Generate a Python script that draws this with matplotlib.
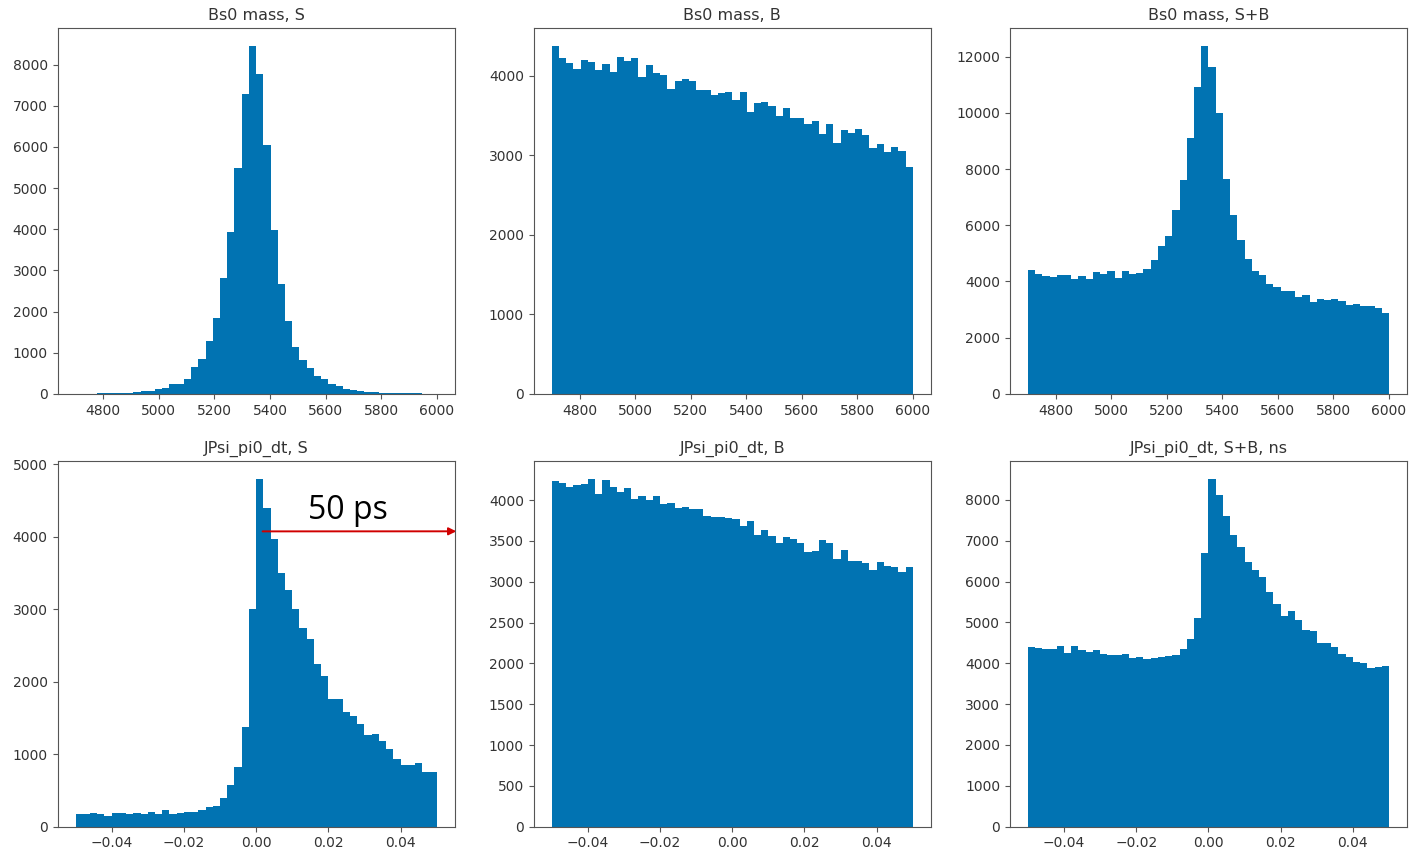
import numpy as np
import matplotlib
matplotlib.use('Agg')
import matplotlib.pyplot as plt
from matplotlib.ticker import MultipleLocator

# --- binning (50 bins each, as in the notebook) -----------------------------
n_bins = 50
mass_range = (4700, 6000)
dt_range = (-0.05, 0.05)

# --- counts -----------------------------------------------------------------
mass_s = [0, 0, 0, 20, 25, 25, 30, 30, 40, 60,
          80, 130, 140, 230, 240, 370, 660, 850, 1280, 1840,
          2820, 3930, 5500, 7290, 8460, 7780, 6050, 3990, 2660, 1770,
          1140, 820, 620, 430, 370, 230, 190, 130, 100, 70,
          50, 35, 30, 25, 25, 20, 20, 15, 0, 0]

mass_b = [4380, 4225, 4163, 4088, 4205, 4175, 4071, 4155, 4050, 4242,
          4184, 4221, 3983, 4142, 4038, 4008, 3837, 3933, 3967, 3933,
          3820, 3820, 3766, 3787, 3800, 3703, 3800, 3549, 3658, 3670,
          3628, 3495, 3600, 3466, 3466, 3399, 3432, 3265, 3399, 3161,
          3315, 3286, 3328, 3257, 3090, 3140, 3044, 3111, 3056, 2856]

mass_sb = [4426, 4249, 4189, 4142, 4225, 4225, 4095, 4178, 4095, 4320,
           4260, 4379, 4130, 4367, 4284, 4308, 4462, 4757, 5266, 5609,
           6556, 7598, 9112, 10935, 12390, 11621, 10000, 7657, 6379, 5467,
           4793, 4379, 4225, 3893, 3811, 3657, 3657, 3432, 3515, 3278,
           3373, 3337, 3361, 3302, 3160, 3183, 3124, 3124, 3041, 2888]

dt_s = [170, 170, 183, 170, 151, 183, 183, 170, 183, 170,
        206, 170, 229, 170, 193, 206, 206, 229, 266, 284,
        399, 573, 817, 1376, 3000, 4803, 4390, 3968, 3500, 3266,
        3000, 2743, 2583, 2248, 2078, 1766, 1766, 1583, 1523, 1413,
        1261, 1275, 1183, 1078, 927, 849, 849, 881, 748, 748]

dt_b = [4236, 4216, 4163, 4187, 4196, 4265, 4073, 4248, 4167, 4102,
        4147, 4012, 4053, 4000, 4049, 3951, 3971, 3902, 3918, 3894,
        3886, 3804, 3788, 3788, 3780, 3768, 3686, 3739, 3576, 3637,
        3564, 3475, 3552, 3523, 3475, 3360, 3381, 3511, 3470, 3279,
        3389, 3259, 3259, 3226, 3145, 3238, 3198, 3177, 3116, 3177]

dt_sb = [4400, 4376, 4336, 4352, 4432, 4256, 4432, 4320, 4272, 4320,
         4216, 4200, 4200, 4232, 4136, 4152, 4096, 4120, 4152, 4168,
         4200, 4360, 4592, 5100, 6700, 8520, 8120, 7600, 7140, 6850,
         6480, 6290, 6110, 5750, 5460, 5150, 5280, 5060, 4820, 4800,
         4500, 4490, 4400, 4220, 4160, 4030, 4010, 3880, 3900, 3940]

titles = ['Bs0 mass, S', 'Bs0 mass, B', 'Bs0 mass, S+B',
          'JPsi_pi0_dt, S', 'JPsi_pi0_dt, B', 'JPsi_pi0_dt, S+B, ns']

BAR_COLOR = '#0173B2'

plt.rcParams['font.family'] = ['DejaVu Sans']
plt.rcParams['axes.edgecolor'] = '#555555'
plt.rcParams['xtick.color'] = '#555555'
plt.rcParams['ytick.color'] = '#555555'
plt.rcParams['xtick.labelcolor'] = '#333333'
plt.rcParams['ytick.labelcolor'] = '#333333'

fig, axes = plt.subplots(2, 3, figsize=(14.1, 8.51), dpi=100)
fig.subplots_adjust(left=0.0408, right=0.9979, top=0.9667, bottom=0.0286,
                    wspace=0.199, hspace=0.184)

mass_edges = np.linspace(mass_range[0], mass_range[1], n_bins + 1)
dt_edges = np.linspace(dt_range[0], dt_range[1], n_bins + 1)

panels = [(mass_s, mass_edges), (mass_b, mass_edges), (mass_sb, mass_edges),
          (dt_s, dt_edges), (dt_b, dt_edges), (dt_sb, dt_edges)]
y_steps = [1000, 1000, 2000, 1000, 500, 1000]

for ax, (counts, edges), title, ystep in zip(axes.flat, panels, titles, y_steps):
    centers = 0.5 * (edges[:-1] + edges[1:])
    ax.hist(centers, bins=edges, weights=counts, color=BAR_COLOR)
    ax.set_title(title, fontsize=11.5, color='#333333')
    ax.yaxis.set_major_locator(MultipleLocator(ystep))
    ax.tick_params(labelsize=10)

for ax in axes[0]:
    ax.xaxis.set_major_locator(MultipleLocator(200))
for ax in axes[1]:
    ax.xaxis.set_major_locator(MultipleLocator(0.02))

# --- "50 ps" marker on the signal dt panel ----------------------------------
ax4 = axes[1, 0]
ax4.annotate('', xy=(1.004, 0.808), xycoords='axes fraction',
             xytext=(0.0018, 4074), textcoords='data',
             arrowprops=dict(arrowstyle='-|>', color='#d00000', lw=1.4,
                             mutation_scale=11, shrinkA=0, shrinkB=0),
             annotation_clip=False)
ax4.text(0.630, 0.8426, '50 ps', transform=ax4.transAxes, fontsize=23,
         family='Open Sans', ha='left', va='baseline', color='black')

plt.savefig('out.png', dpi=100)
